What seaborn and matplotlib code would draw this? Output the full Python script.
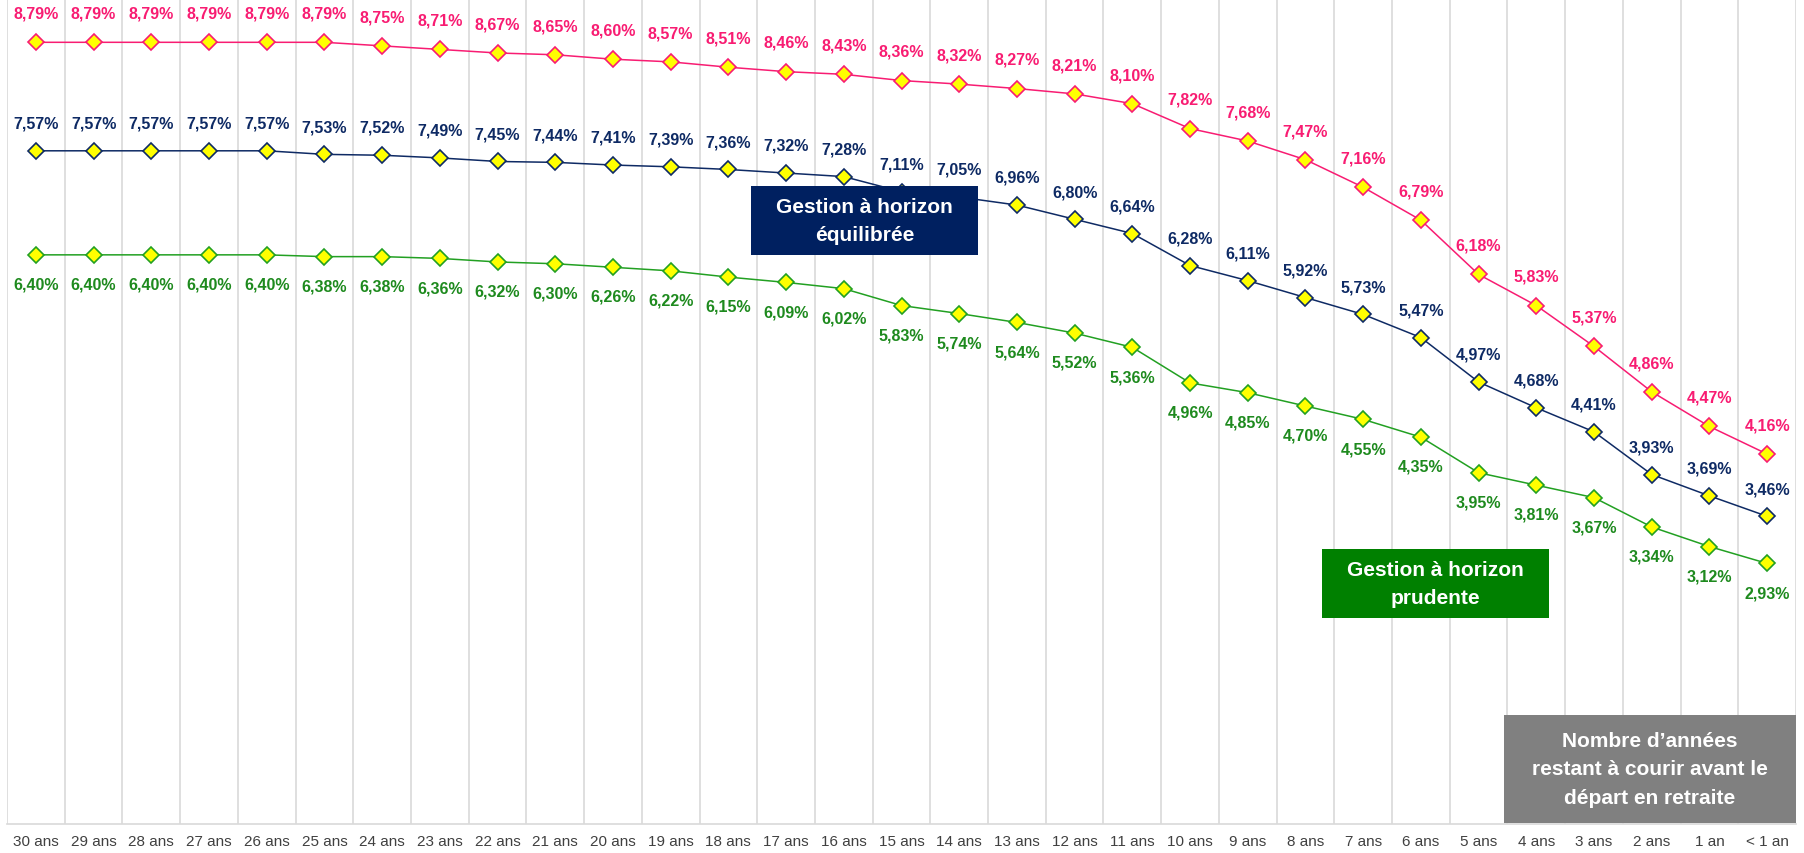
import numpy as np
import pandas as pd
import matplotlib
matplotlib.use("Agg")
import matplotlib.pyplot as plt
from matplotlib.patches import Rectangle
import seaborn as sns

categories = ["30 ans", "29 ans", "28 ans", "27 ans", "26 ans", "25 ans", "24 ans", "23 ans",
              "22 ans", "21 ans", "20 ans", "19 ans", "18 ans", "17 ans", "16 ans", "15 ans",
              "14 ans", "13 ans", "12 ans", "11 ans", "10 ans", "9 ans", "8 ans", "7 ans",
              "6 ans", "5 ans", "4 ans", "3 ans", "2 ans", "1 an", "< 1 an"]

dynamique = [8.79, 8.79, 8.79, 8.79, 8.79, 8.79, 8.75, 8.71, 8.67, 8.65, 8.60, 8.57, 8.51,
             8.46, 8.43, 8.36, 8.32, 8.27, 8.21, 8.10, 7.82, 7.68, 7.47, 7.16, 6.79, 6.18,
             5.83, 5.37, 4.86, 4.47, 4.16]
equilibree = [7.57, 7.57, 7.57, 7.57, 7.57, 7.53, 7.52, 7.49, 7.45, 7.44, 7.41, 7.39, 7.36,
              7.32, 7.28, 7.11, 7.05, 6.96, 6.80, 6.64, 6.28, 6.11, 5.92, 5.73, 5.47, 4.97,
              4.68, 4.41, 3.93, 3.69, 3.46]
prudente = [6.40, 6.40, 6.40, 6.40, 6.40, 6.38, 6.38, 6.36, 6.32, 6.30, 6.26, 6.22, 6.15,
            6.09, 6.02, 5.83, 5.74, 5.64, 5.52, 5.36, 4.96, 4.85, 4.70, 4.55, 4.35, 3.95,
            3.81, 3.67, 3.34, 3.12, 2.93]

box_equilibree = "Gestion à horizon\néquilibrée"
box_prudente = "Gestion à horizon\nprudente"
box_axe = "Nombre d’années\nrestant à courir avant le\ndépart en retraite"

sns.set_style("white")
plt.rcParams['font.family'] = ['Liberation Sans', 'DejaVu Sans']

fig = plt.figure(figsize=(18.04, 8.54), dpi=100)
ax = fig.add_axes([7/1804, 1 - 825/854, (1796 - 7)/1804, 825/854])

pos = np.arange(len(categories))
series = [
    (dynamique, "#F81C72", "#F81C72", 21),
    (equilibree, "#0E2A64", "#0E2A64", 20),
    (prudente, "#22A022", "#1E8A1E", -21),
]
for vals, lc, tc, off in series:
    df = pd.DataFrame({"x": pos, "y": vals})
    sns.lineplot(data=df, x="x", y="y", ax=ax, color=lc, linewidth=1.1, marker="D",
                 markersize=8.5, markerfacecolor="#FFFF00", markeredgecolor=lc,
                 markeredgewidth=1.2, zorder=3)
    for xi, v in zip(pos, vals):
        ax.annotate(f"{v:.2f}%".replace(".", ","), (xi, v), xytext=(0, off),
                    textcoords="offset points", ha="center", va="center",
                    fontsize=11.5, fontweight="bold", color=tc, zorder=4)

ax.set_xlim(-0.5, len(categories) - 0.5)
ax.set_ylim(0, 9.277)
ax.set_xticks(pos)
ax.set_xticklabels(categories, fontsize=11, color="#404040")
ax.set_xticks(np.arange(len(categories) + 1) - 0.5, minor=True)
ax.tick_params(axis="x", which="both", length=0, pad=7)
ax.set_yticks([])
ax.grid(axis="x", which="minor", color="#D9D9D9", linewidth=1.2)
ax.grid(axis="x", which="major", visible=False)
ax.set_xlabel("")
ax.set_ylabel("")
for s in ["top", "right", "left"]:
    ax.spines[s].set_visible(False)
ax.spines["bottom"].set_color("#D9D9D9")
ax.spines["bottom"].set_linewidth(1.2)

def box(x0, y0, x1, y1, color, text):
    fig.add_artist(Rectangle((x0/1804, 1 - y1/854), (x1 - x0)/1804, (y1 - y0)/854,
                             transform=fig.transFigure, facecolor=color, edgecolor="none",
                             zorder=10))
    fig.text((x0 + x1)/2/1804, 1 - (y0 + y1)/2/854, text, ha="center", va="center",
             color="white", fontsize=15, fontweight="bold", linespacing=1.65, zorder=11)

box(751, 187, 978, 256, "#002060", box_equilibree)
box(1322, 550, 1549, 619, "#008000", box_prudente)
box(1504, 716, 1796, 824, "#808080", box_axe)

fig.savefig("out.png", dpi=100)
